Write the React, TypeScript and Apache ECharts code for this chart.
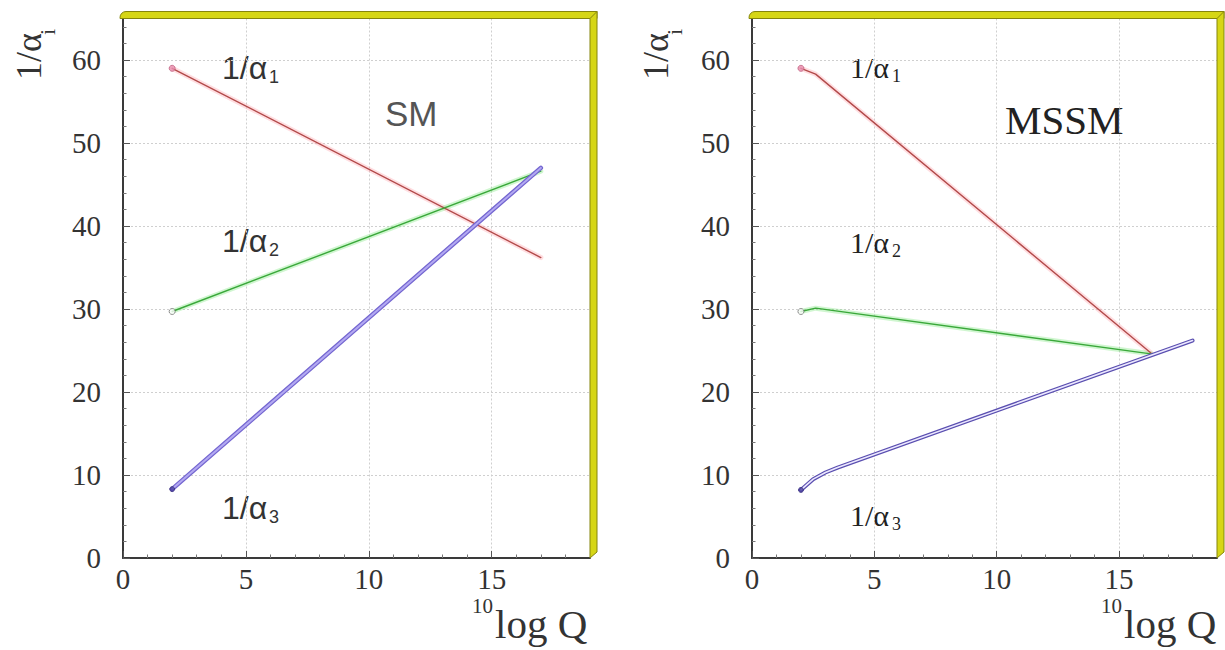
import React, { useEffect, useRef } from "react";
import * as echarts from "echarts";

// ---- data (x = 10log Q, y = 1/alpha_i) ----
const xTicks = [0, 5, 10, 15];
const yTicks = [0, 10, 20, 30, 40, 50, 60];

const smAlpha1: [number, number][] = [[2, 59.0], [17, 36.2]];
const smAlpha2: [number, number][] = [[2, 29.7], [17, 46.6]];
const smAlpha3: [number, number][] = [[2, 8.3], [17, 47.0]];

const mssmAlpha1: [number, number][] = [[2, 59.0], [2.6, 58.3], [16.3, 24.7]];
const mssmAlpha2: [number, number][] = [[2, 29.7], [2.6, 30.1], [16.3, 24.6]];
const mssmAlpha3: [number, number][] = [[2, 8.2], [2.5, 9.5], [3, 10.3], [3.5, 10.9], [18, 26.2]];

const panelTitles = ["SM", "MSSM"];

const SERIF = "'Liberation Serif', 'Times New Roman', serif";
const SANS = "'Liberation Sans', Arial, sans-serif";

function makeX(gridIndex: number) {
  return {
    type: "value",
    gridIndex,
    min: 0,
    max: 19,
    interval: 5,
    axisLine: { show: true, onZero: false, lineStyle: { color: "#3a3a3a", width: 2 } },
    axisTick: { show: true, inside: true, length: 7, lineStyle: { color: "#555", width: 1 } },
    minorTick: { show: true, splitNumber: 5, length: 3.5, lineStyle: { color: "#777", width: 1 } },
    splitLine: { show: true, lineStyle: { color: "#cfcfcf", width: 1, type: [2, 2] } },
    axisLabel: {
      show: true,
      showMaxLabel: false,
      margin: 6,
      fontFamily: SERIF,
      fontSize: 29,
      color: "#333",
      formatter: (v: number) => (xTicks.includes(v) ? String(v) : ""),
    },
  };
}

function makeY(gridIndex: number) {
  return {
    type: "value",
    gridIndex,
    min: 0,
    max: 65,
    interval: 10,
    axisLine: { show: true, onZero: false, lineStyle: { color: "#3a3a3a", width: 2 } },
    axisTick: { show: true, inside: true, length: 7, lineStyle: { color: "#555", width: 1 } },
    minorTick: { show: true, splitNumber: 5, length: 3.5, lineStyle: { color: "#777", width: 1 } },
    splitLine: { show: true, lineStyle: { color: "#cfcfcf", width: 1, type: [2, 2] } },
    axisLabel: {
      show: true,
      showMaxLabel: false,
      margin: 22,
      fontFamily: SERIF,
      fontSize: 29,
      color: "#333",
      formatter: (v: number) => (yTicks.includes(v) ? String(v) : ""),
    },
  };
}

function line(data: [number, number][], g: number, color: string, width: number, z: number) {
  return {
    type: "line",
    xAxisIndex: g,
    yAxisIndex: g,
    data,
    symbol: "none",
    silent: true,
    z,
    lineStyle: { color, width, cap: "round", join: "round" },
  };
}

function startPoint(data: [number, number][], g: number, fill: string, stroke: string, size: number) {
  return {
    type: "scatter",
    xAxisIndex: g,
    yAxisIndex: g,
    data: [data[0]],
    symbol: "circle",
    symbolSize: size,
    silent: true,
    z: 10,
    itemStyle: { color: fill, borderColor: stroke, borderWidth: 1 },
  };
}

function coupling(x: number, y: number, sub: string, font: string, size: number, subSize: number, subDx: number, subDy: number, color: string) {
  return {
    type: "group",
    x,
    y,
    children: [
      { type: "text", x: 0, y: 0, style: { text: "1/α", fontFamily: font, fontSize: size, fill: color, align: "left", verticalAlign: "middle" } },
      { type: "text", x: subDx, y: subDy, style: { text: sub, fontFamily: font, fontSize: subSize, fill: color, align: "left", verticalAlign: "middle" } },
    ],
  };
}

function axisTitle(x: number, y: number) {
  return {
    type: "group",
    x,
    y,
    rotation: Math.PI / 2,
    children: [
      { type: "text", x: 0, y: 0, style: { text: "1/α", fontFamily: SERIF, fontSize: 36, fill: "#333", align: "left", verticalAlign: "middle" } },
      { type: "text", x: 45, y: 18, style: { text: "i", fontFamily: SERIF, fontSize: 22, fill: "#333", align: "left", verticalAlign: "middle" } },
    ],
  };
}

function xTitle(x: number, y: number) {
  return {
    type: "group",
    x,
    y,
    children: [
      { type: "text", x: 0, y: -18, style: { text: "10", fontFamily: SERIF, fontSize: 21, fill: "#333", align: "left", verticalAlign: "middle" } },
      { type: "text", x: 23, y: 0, style: { text: "log Q", fontFamily: SERIF, fontSize: 41, fill: "#333", align: "left", verticalAlign: "middle" } },
    ],
  };
}

function frame(left: number, right: number, top: number, bottom: number) {
  const fill = "#d6d616";
  const stroke = "#85850c";
  return [
    {
      type: "rect",
      z: 100,
      shape: { x: left - 3, y: top - 7, width: right - left + 10, height: 7, r: [6, 0, 0, 0] },
      style: { fill, stroke, lineWidth: 1 },
    },
    {
      type: "polygon",
      z: 100,
      shape: { points: [[right, top], [right + 7, top - 7], [right + 7, bottom - 6], [right, bottom]] },
      style: { fill, stroke, lineWidth: 1 },
    },
  ];
}

export default function App() {
  const ref = useRef<HTMLDivElement>(null);
  useEffect(() => {
    if (!ref.current) return;
    const chart = echarts.init(ref.current, undefined, { renderer: "svg" });
    const top = 18.5;
    const height = 539.5;
    const g0 = { left: 123, top, width: 467, height };
    const g1 = { left: 752, top, width: 465, height };
    const option = {
      animation: false,
      backgroundColor: "#ffffff",
      grid: [g0, g1],
      xAxis: [makeX(0), makeX(1)],
      yAxis: [makeY(0), makeY(1)],
      series: [
        // SM
        line(smAlpha1, 0, "rgba(255,160,170,0.35)", 5, 2),
        line(smAlpha1, 0, "#b24a4a", 1.4, 3),
        line(smAlpha2, 0, "rgba(120,230,120,0.35)", 5, 2),
        line(smAlpha2, 0, "#3aa83a", 1.4, 3),
        line(smAlpha3, 0, "#7466d0", 4.5, 4),
        line(smAlpha3, 0, "#b3a9f2", 2, 5),
        startPoint(smAlpha1, 0, "#e890b0", "#c06080", 6),
        startPoint(smAlpha2, 0, "#ffffff", "#777777", 6),
        startPoint(smAlpha3, 0, "#4a3f9f", "#3a2f7f", 5),
        // MSSM
        line(mssmAlpha1, 1, "rgba(255,160,170,0.35)", 5, 2),
        line(mssmAlpha1, 1, "#b24a4a", 1.4, 3),
        line(mssmAlpha2, 1, "rgba(120,230,120,0.35)", 5, 2),
        line(mssmAlpha2, 1, "#3aa83a", 1.4, 3),
        line(mssmAlpha3, 1, "#5a4fb0", 4, 4),
        line(mssmAlpha3, 1, "#ece8ff", 1.6, 5),
        startPoint(mssmAlpha1, 1, "#e890b0", "#c06080", 6),
        startPoint(mssmAlpha2, 1, "#ffffff", "#777777", 6),
        startPoint(mssmAlpha3, 1, "#4a3f9f", "#3a2f7f", 5),
      ],
      graphic: [
        ...frame(123, 590, top, top + height),
        ...frame(752, 1217, top, top + height),
        axisTitle(29, 80),
        axisTitle(656, 80),
        xTitle(472, 624),
        xTitle(1101, 624),
        // SM panel labels (sans)
        coupling(222, 68, "1", SANS, 32, 18, 47, 9, "#333"),
        coupling(222, 241, "2", SANS, 32, 18, 47, 9, "#333"),
        coupling(222, 508, "3", SANS, 32, 18, 47, 9, "#333"),
        { type: "text", x: 385, y: 113, style: { text: panelTitles[0], fontFamily: SANS, fontSize: 35, fill: "#555", align: "left", verticalAlign: "middle" } },
        // MSSM panel labels (serif)
        coupling(850, 67, "1", SERIF, 30, 18, 42, 9, "#222"),
        coupling(850, 242, "2", SERIF, 30, 18, 42, 9, "#222"),
        coupling(850, 515, "3", SERIF, 30, 18, 42, 9, "#222"),
        { type: "text", x: 1005, y: 120, style: { text: panelTitles[1], fontFamily: SERIF, fontSize: 41, fill: "#222", align: "left", verticalAlign: "middle" } },
      ],
    };
    chart.setOption(option as any);
    return () => chart.dispose();
  }, []);
  return (
    <div
      ref={ref}
      style={{ position: "fixed", left: 0, top: 0, width: 1225, height: 650, background: "#fff" }}
    />
  );
}
